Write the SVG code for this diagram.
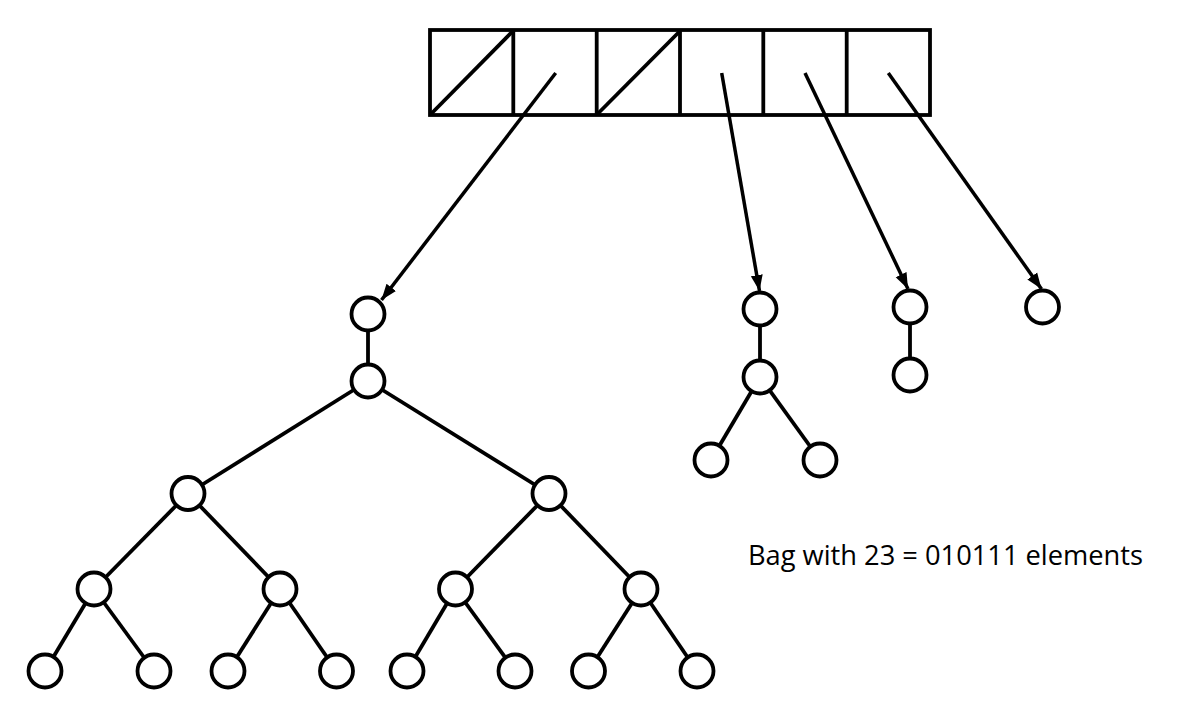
<svg xmlns="http://www.w3.org/2000/svg" width="1200" height="710" viewBox="0 0 1200 710">
<style>
.cell{fill:#fff;stroke:#000;stroke-width:3.8}
.diag{stroke:#000;stroke-width:3.8;fill:none}
.edge{stroke:#000;stroke-width:3.8;fill:none}
.arr{stroke:#000;stroke-width:3.5;fill:none;marker-end:url(#ah)}
.n{fill:#fff;stroke:#000;stroke-width:3.8}
.lbl{font-family:"Open Sans","Liberation Sans",sans-serif;font-size:28px;fill:#000}
</style>
<defs>
<marker id="ah" markerUnits="userSpaceOnUse" markerWidth="18" markerHeight="14" refX="16" refY="6" orient="auto" viewBox="0 0 18 12">
<path d="M0,0 L16,6 L0,12 Z" fill="#000"/>
</marker>
</defs>
<rect width="1200" height="710" fill="#fff"/>
<g id="array">
<rect class="cell" x="430" y="30" width="500" height="85"/>
<line class="diag" x1="513.3" y1="30" x2="513.3" y2="115"/>
<line class="diag" x1="596.7" y1="30" x2="596.7" y2="115"/>
<line class="diag" x1="680" y1="30" x2="680" y2="115"/>
<line class="diag" x1="763.3" y1="30" x2="763.3" y2="115"/>
<line class="diag" x1="846.7" y1="30" x2="846.7" y2="115"/>
<line class="diag" x1="431" y1="114" x2="513" y2="31"/>
<line class="diag" x1="597.5" y1="114" x2="680" y2="31"/>
</g>
<g id="connectors">
<line class="arr" x1="555.7" y1="73" x2="381.5" y2="300"/>
<line class="arr" x1="721.7" y1="73" x2="759.5" y2="291"/>
<line class="arr" x1="805" y1="73" x2="908" y2="289"/>
<line class="arr" x1="888.3" y1="73" x2="1041.5" y2="289"/>
<line class="edge" x1="368" y1="314" x2="368" y2="381"/>
<line class="edge" x1="368" y1="381" x2="188" y2="493.5"/>
<line class="edge" x1="368" y1="381" x2="549" y2="493.5"/>
<line class="edge" x1="188" y1="493.5" x2="94" y2="589"/>
<line class="edge" x1="188" y1="493.5" x2="280" y2="589"/>
<line class="edge" x1="549" y1="493.5" x2="455.5" y2="589"/>
<line class="edge" x1="549" y1="493.5" x2="641" y2="589"/>
<line class="edge" x1="94" y1="589" x2="45" y2="671"/>
<line class="edge" x1="94" y1="589" x2="154" y2="671"/>
<line class="edge" x1="280" y1="589" x2="228" y2="671"/>
<line class="edge" x1="280" y1="589" x2="336.5" y2="671"/>
<line class="edge" x1="455.5" y1="589" x2="407" y2="671"/>
<line class="edge" x1="455.5" y1="589" x2="515" y2="671"/>
<line class="edge" x1="641" y1="589" x2="588.5" y2="671"/>
<line class="edge" x1="641" y1="589" x2="697" y2="671"/>
<line class="edge" x1="760" y1="309" x2="760" y2="377"/>
<line class="edge" x1="760" y1="377" x2="711" y2="460"/>
<line class="edge" x1="760" y1="377" x2="820" y2="460"/>
<line class="edge" x1="910" y1="307" x2="910" y2="375"/>
</g>
<g id="tree0">
<circle class="n" cx="368" cy="314" r="16.5"/>
<circle class="n" cx="368" cy="381" r="16.5"/>
<circle class="n" cx="188" cy="493.5" r="16.5"/>
<circle class="n" cx="549" cy="493.5" r="16.5"/>
<circle class="n" cx="94" cy="589" r="16.5"/>
<circle class="n" cx="280" cy="589" r="16.5"/>
<circle class="n" cx="455.5" cy="589" r="16.5"/>
<circle class="n" cx="641" cy="589" r="16.5"/>
<circle class="n" cx="45" cy="671" r="16.5"/>
<circle class="n" cx="154" cy="671" r="16.5"/>
<circle class="n" cx="228" cy="671" r="16.5"/>
<circle class="n" cx="336.5" cy="671" r="16.5"/>
<circle class="n" cx="407" cy="671" r="16.5"/>
<circle class="n" cx="515" cy="671" r="16.5"/>
<circle class="n" cx="588.5" cy="671" r="16.5"/>
<circle class="n" cx="697" cy="671" r="16.5"/>
</g>
<g id="tree1">
<circle class="n" cx="760" cy="309" r="16.5"/>
<circle class="n" cx="760" cy="377" r="16.5"/>
<circle class="n" cx="711" cy="460" r="16.5"/>
<circle class="n" cx="820" cy="460" r="16.5"/>
</g>
<g id="tree2">
<circle class="n" cx="910" cy="307" r="16.5"/>
<circle class="n" cx="910" cy="375" r="16.5"/>
</g>
<g id="tree3">
<circle class="n" cx="1042.5" cy="307" r="16.5"/>
</g>
<g id="label">
<text class="lbl" x="748" y="565" textLength="395" lengthAdjust="spacingAndGlyphs">Bag with 23 = 010111 elements</text>
</g>
</svg>
